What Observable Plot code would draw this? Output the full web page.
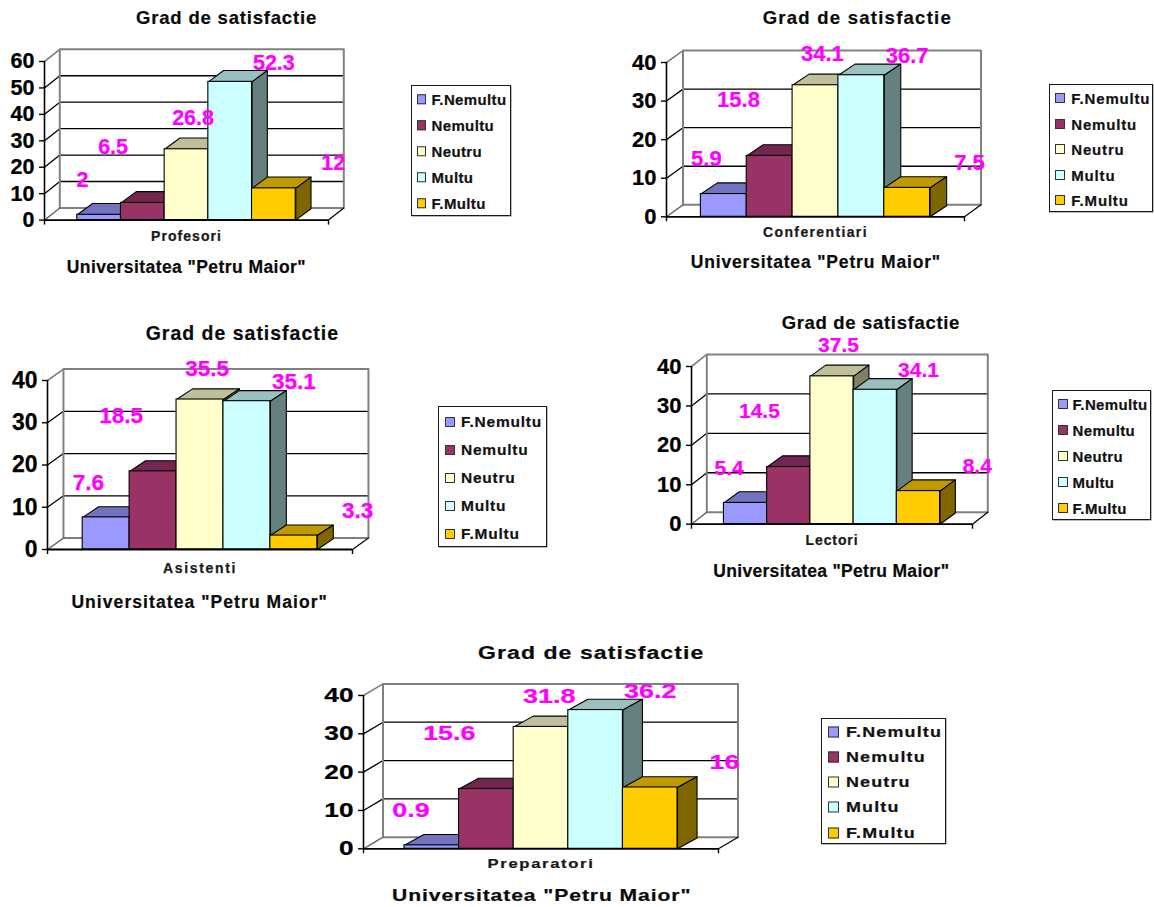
<!DOCTYPE html>
<html>
<head>
<meta charset="utf-8">
<script src="https://cdn.jsdelivr.net/npm/d3@7"></script>
<script src="https://cdn.jsdelivr.net/npm/@observablehq/plot@0.6"></script>
<style>
  html, body { margin: 0; padding: 0; background: #fff; }
  #page { position: relative; width: 1154px; height: 907px; overflow: hidden; font-family: "Liberation Sans", Arial, sans-serif; font-weight: bold; color: #0a0a0a; }
  #page > * { position: absolute; }
  .txt { white-space: nowrap; line-height: 1; transform-origin: left center; -webkit-text-stroke: 0.2px currentColor; }
  .legend { box-sizing: border-box; border: 1.6px solid #1a1a1a; background: #fff; box-shadow: 0.5px 0.5px 0 #777; }
  .legend .sw { position: absolute; box-sizing: border-box; border: 1.5px solid #333; transform: translateY(-50%); }
  .legend .lb { position: absolute; white-space: nowrap; line-height: 1; transform-origin: left center; color: #111; -webkit-text-stroke: 0.2px currentColor; }
</style>
</head>
<body>
<div id="page"></div>
<script>
// ---- values
const chartTitle = "Grad de satisfactie";
const chartSubtitle = 'Universitatea "Petru Maior"';
const seriesNames = ["F.Nemultu", "Nemultu", "Neutru", "Multu", "F.Multu"];
const seriesFront = ["#9999FF", "#993366", "#FFFFCC", "#CCFFFF", "#FFCC00"];
const seriesTop = ["#7373BF", "#732650", "#BFBF99", "#99BFBF", "#BF9900"];
const seriesSide = ["#4D4D80", "#4D1A33", "#808066", "#668080", "#806600"];

const categories = ["Profesori", "Conferentiari", "Asistenti", "Lectori", "Preparatori"];
const profesori = [2, 6.5, 26.8, 52.3, 12];
const conferentiari = [5.9, 15.8, 34.1, 36.7, 7.5];
const asistenti = [7.6, 18.5, 35.5, 35.1, 3.3];
const lectori = [5.4, 14.5, 37.5, 34.1, 8.4];
const preparatori = [0.9, 15.6, 31.8, 36.2, 16];
const allValues = [profesori, conferentiari, asistenti, lectori, preparatori];
const yTicks = [
  [0, 10, 20, 30, 40, 50, 60],
  [0, 10, 20, 30, 40],
  [0, 10, 20, 30, 40],
  [0, 10, 20, 30, 40],
  [0, 10, 20, 30, 40]
];

// ---- layout: where each value label sits relative to its bar top
const labelShift = [-0.38, -0.68, 0.15, 1.0, 1.36];   // in bar widths
const labelLift = [-35, -56, -31, -19, -25];          // in pixels

// ---- layout of the five panels on the page
const panels = [
  { x0: 44, w: 284, yBase: 219.3, yTop: 60.7, depthX: 0.35, depthY: 4.6, stretch: 1, tickFont: 21.5, valueFont: 21.5,
    catFont: 14, catWidth: 71, catPad: 10.5, titleFont: 18.5, subFont: 17.5,
    title: [136, 317, 17.5], sub: [66.7, 306, 267.7],
    legend: { l: 410.5, t: 84.5, r: 511, b: 216, swL: 5, swS: 9.5, txL: 20, txW: 75, font: 15, rowY: 13.5, rowStep: 26 } },
  { x0: 666, w: 298, yBase: 216, yTop: 61.7, depthX: 0.36, depthY: 3.1, stretch: 1, tickFont: 22, valueFont: 22,
    catFont: 14, catWidth: 105, catPad: 10, titleFont: 18.5, subFont: 17.5,
    title: [762.7, 952, 18.3], sub: [690.7, 941, 262.7],
    legend: { l: 1049.3, t: 84, r: 1153.5, b: 212, swL: 5, swS: 10, txL: 21, txW: 79, font: 15, rowY: 13, rowStep: 25.6 } },
  { x0: 47, w: 305, yBase: 549, yTop: 380, depthX: 0.34, depthY: 2.7, stretch: 1, tickFont: 23, valueFont: 22.5,
    catFont: 14, catWidth: 74, catPad: 13.5, titleFont: 19.5, subFont: 17.5,
    title: [145.7, 339, 334], sub: [71.4, 328, 602.7],
    legend: { l: 438, t: 405.5, r: 546.5, b: 547, swL: 6, swS: 10, txL: 22, txW: 81, font: 15.5, rowY: 15.5, rowStep: 28 } },
  { x0: 690.7, w: 281, yBase: 523.7, yTop: 366, depthX: 0.354, depthY: 3.05, stretch: 1, tickFont: 22, valueFont: 21,
    catFont: 14, catWidth: 53, catPad: 10.5, titleFont: 18.5, subFont: 17.5,
    title: [781.7, 960, 323.3], sub: [713.3, 949.3, 571.7],
    legend: { l: 1052, t: 390, r: 1151, b: 520, swL: 5, swS: 10, txL: 19.5, txW: 75, font: 15, rowY: 13, rowStep: 26 } },
  { x0: 363, w: 355, yBase: 848.3, yTop: 695, depthX: 0.357, depthY: 3.03, stretch: 1.28, tickFont: 20.5, valueFont: 21,
    catFont: 13, catWidth: 107, catPad: 10, titleFont: 18, subFont: 16.5,
    title: [477.7, 704, 653.3], sub: [391.6, 691, 895],
    legend: { l: 821, t: 718, r: 946, b: 844, swL: 6, swS: 11, txL: 24, txW: 96, font: 14, rowY: 12.5, rowStep: 25.3 } }
];

// ---- helpers
const FONT = '"Liberation Sans", Arial, sans-serif';
const page = document.getElementById("page");
const measure = document.createElement("canvas").getContext("2d");
function spacingFor(text, size, target, stretch) {
  measure.font = `bold ${size}px "Liberation Sans"`;
  return (target / stretch - measure.measureText(text).width) / text.length;
}
function addText(text, left, right, cy, size, stretch) {
  const el = document.createElement("div");
  el.className = "txt";
  el.textContent = text;
  el.style.left = left + "px";
  el.style.top = cy + "px";
  el.style.fontSize = size + "px";
  el.style.transform = `translateY(-50%) scaleX(${stretch})`;
  el.style.letterSpacing = spacingFor(text, size, right - left, stretch) + "px";
  page.appendChild(el);
}
function poly(points, options) {
  return Plot.line(points, { x: (d) => d[0], y: (d) => d[1], curve: "linear", ...options });
}
function addLegend(cfg, stretch) {
  const box = document.createElement("div");
  box.className = "legend";
  box.style.left = cfg.l + "px";
  box.style.top = cfg.t + "px";
  box.style.width = cfg.r - cfg.l + "px";
  box.style.height = cfg.b - cfg.t + "px";
  const gap = spacingFor(seriesNames[0], cfg.font, cfg.txW, stretch);
  seriesNames.forEach((name, i) => {
    const y = cfg.rowY + i * cfg.rowStep;
    const sw = document.createElement("div");
    sw.className = "sw";
    sw.style.cssText = `left:${cfg.swL}px;top:${y}px;width:${cfg.swS}px;height:${cfg.swS}px;background:${seriesFront[i]}`;
    const lb = document.createElement("div");
    lb.className = "lb";
    lb.textContent = name;
    lb.style.cssText = `left:${cfg.txL}px;top:${y}px;font-size:${cfg.font}px;letter-spacing:${gap}px;transform:translateY(-50%) scaleX(${stretch})`;
    box.appendChild(sw);
    box.appendChild(lb);
  });
  page.appendChild(box);
}

function drawPanel(p, idx) {
  const values = allValues[idx];
  const ticks = yTicks[idx];
  const yMax = d3.max(ticks);
  const xMax = 6.5;                      // 5 bars plus the 150% gap
  const barStart = 0.75;
  const d = p.depthX, e = p.depthY;
  const bd = p.depthX, be = p.depthY * 0.93;
  const m = { left: 46, right: 70, top: 40, bottom: 30 };

  const walls = [
    // grid lines from the axis over the left wall and along the back wall
    ...ticks.filter((t) => t > 0 && t < yMax).map((t) =>
      poly([[0, t], [d, t + e], [xMax + d, t + e]], { stroke: "#000", strokeWidth: 1.3 })),
    poly([[d, e], [xMax + d, e], [xMax + d, yMax + e], [d, yMax + e], [d, e]], { stroke: "#808080", strokeWidth: 2 }),
    poly([[0, yMax], [d, yMax + e]], { stroke: "#808080", strokeWidth: 1.6 }),
    poly([[0, 0], [d, e]], { stroke: "#666", strokeWidth: 1.4 }),
    poly([[xMax, 0], [xMax + d, e]], { stroke: "#000", strokeWidth: 1.2 })
  ];

  const bars = values.flatMap((v, i) => {
    const a = barStart + i, b = a + 1;
    return [
      poly([[a, v], [b, v], [b + bd, v + be], [a + bd, v + be], [a, v]],
        { fill: seriesTop[i], stroke: "#000", strokeWidth: 1.1 }),
      poly([[b, 0], [b + bd, be], [b + bd, v + be], [b, v], [b, 0]],
        { fill: seriesSide[i], stroke: "#000", strokeWidth: 1.1 }),
      Plot.rect([{ a, b, v }], { x1: "a", x2: "b", y1: 0, y2: "v", fill: seriesFront[i], stroke: "#000", strokeWidth: 1.1 })
    ];
  });

  const labels = values.map((v, i) =>
    Plot.text([{ x: barStart + i + 0.5 + labelShift[i], v }], {
      x: "x", y: "v", text: (r) => String(r.v), dy: labelLift[i],
      fill: "#FF00FF", fontSize: p.valueFont, fontWeight: "bold"
    }));

  const svg = Plot.plot({
    width: p.w + m.left + m.right,
    height: p.yBase - p.yTop + m.top + m.bottom,
    marginLeft: m.left, marginRight: m.right, marginTop: m.top, marginBottom: m.bottom,
    style: { fontFamily: FONT, fontWeight: "bold", background: "transparent", color: "#000", overflow: "visible" },
    x: { domain: [0, xMax], label: null, axis: null },
    y: { domain: [0, yMax], label: null, axis: null },
    marks: [
      ...walls,
      ...bars,
      Plot.ruleY([0], { x1: 0, x2: xMax, stroke: "#000", strokeWidth: 1.8 }),
      Plot.ruleX([0], { y1: 0, y2: yMax, stroke: "#000", strokeWidth: 1.6 }),
      Plot.axisY({ ticks, tickSize: 5, tickPadding: 5, fontSize: p.tickFont, fontWeight: "bold", label: null, strokeWidth: 1.4 }),
      Plot.axisX({ ticks: [0, xMax], tickSize: 5, tickFormat: () => "", label: null, strokeWidth: 1.4 }),
      Plot.axisX({ ticks: [xMax / 2], tickSize: 0, tickPadding: p.catPad, tickFormat: () => categories[idx],
        fontSize: p.catFont, fontWeight: "bold", label: null, fill: "#1a1a1a" }),
      ...labels
    ]
  });
  svg.style.left = p.x0 - m.left + "px";
  svg.style.top = p.yTop - m.top + "px";
  page.appendChild(svg);

  // Heavier, and in the last panel wider, text: that panel was scaled unevenly in the reference.
  const catGap = spacingFor(categories[idx], p.catFont, p.catWidth, p.stretch);
  svg.querySelectorAll("text").forEach((t) => {
    if (!t.textContent) return;
    const fill = getComputedStyle(t).fill;
    t.style.stroke = fill;
    t.style.strokeWidth = "0.25px";
    if (t.textContent === categories[idx]) t.style.letterSpacing = catGap + "px";
    if (p.stretch !== 1) {
      t.setAttribute("textLength", t.getComputedTextLength() * p.stretch);
      t.setAttribute("lengthAdjust", "spacingAndGlyphs");
    }
  });

  addText(chartTitle, p.title[0], p.title[1], p.title[2], p.titleFont, p.stretch);
  addText(chartSubtitle, p.sub[0], p.sub[1], p.sub[2], p.subFont, p.stretch);
  addLegend(p.legend, p.stretch);
}

panels.forEach(drawPanel);
</script>
</body>
</html>
